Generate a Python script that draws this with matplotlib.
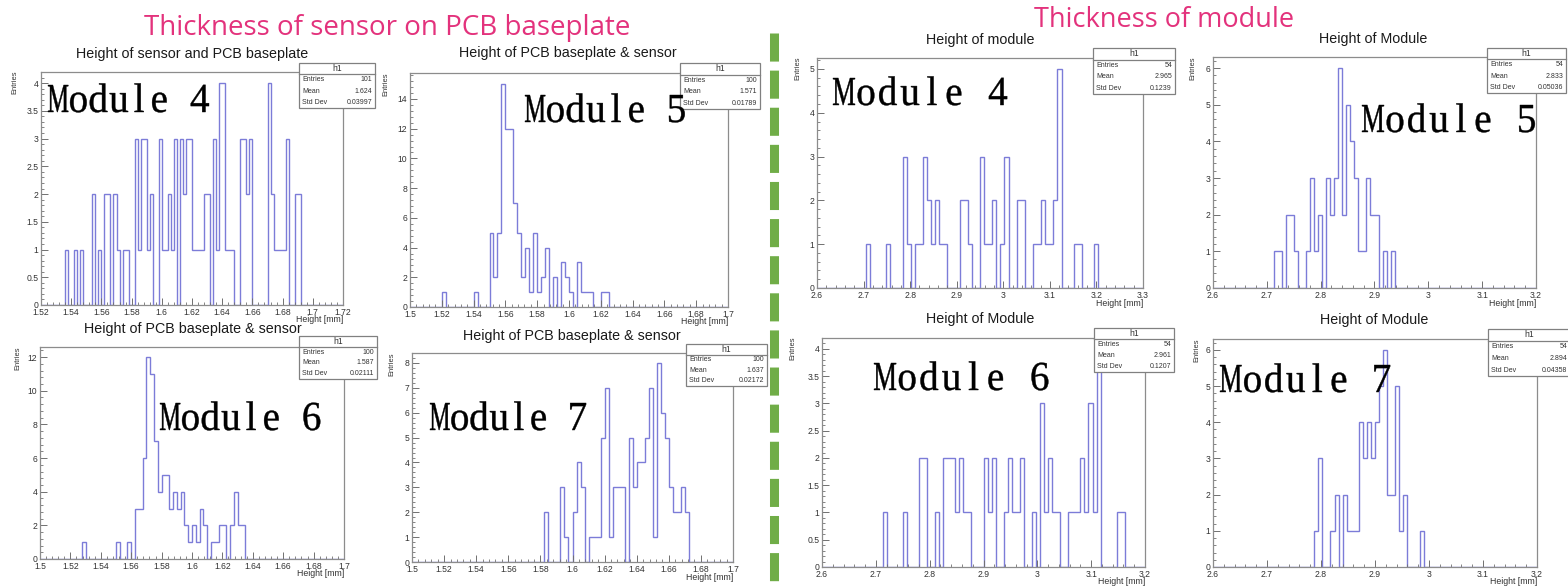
import numpy as np
import matplotlib
matplotlib.use("Agg")
import matplotlib.pyplot as plt
from matplotlib.patches import Rectangle, PathPatch
from matplotlib.lines import Line2D
from matplotlib.textpath import TextPath
from matplotlib.font_manager import FontProperties
from matplotlib.transforms import Affine2D
from matplotlib.ticker import MultipleLocator, FuncFormatter

W, H = 1568, 587

# ---- data: binning (lo, hi, nbins), first filled bin, counts from there on ----
sensor_m4_bins = (1.52, 1.72, 100)
sensor_m4_first = 8
sensor_m4_counts = [1, 0, 0, 1, 0, 1, 0, 0, 0, 2, 0, 1, 0, 2, 2, 0, 2, 1, 0, 1,
                    1, 0, 0, 3, 1, 3, 3, 1, 2, 0, 0, 3, 1, 1, 2, 1, 3, 0, 3, 2,
                    3, 3, 1, 1, 1, 1, 2, 2, 0, 3, 1, 4, 4, 1, 1, 1, 0, 0, 3, 3,
                    2, 3, 0, 0, 0, 0, 0, 4, 2, 1, 1, 1, 1, 3, 0, 0, 2, 2]
sensor_m4_stats = ("101", "1.624", "0.03997")

sensor_m5_bins = (1.5, 1.7, 80)
sensor_m5_first = 8
sensor_m5_counts = [1, 0, 0, 0, 0, 0, 0, 0, 1, 0, 0, 0, 5, 2, 5, 15, 12, 12, 7, 5,
                    2, 4, 1, 5, 1, 2, 4, 0, 2, 0, 3, 2, 1, 0, 3, 1, 1, 1, 0, 0,
                    1, 1]
sensor_m5_stats = ("100", "1.571", "0.01789")

sensor_m6_bins = (1.5, 1.7, 80)
sensor_m6_first = 11
sensor_m6_counts = [1, 0, 0, 0, 0, 0, 0, 0, 0, 1, 0, 0, 1, 0, 3, 3, 6, 12, 11, 7,
                    4, 5, 5, 3, 4, 3, 4, 2, 1, 2, 1, 3, 2, 0, 1, 1, 2, 2, 0, 2,
                    4, 2, 2]
sensor_m6_stats = ("100", "1.587", "0.02111")

sensor_m7_bins = (1.5, 1.7, 80)
sensor_m7_first = 33
sensor_m7_counts = [2, 0, 0, 0, 3, 1, 0, 2, 4, 3, 0, 1, 1, 1, 5, 7, 1, 3, 3, 3,
                    0, 5, 3, 4, 4, 5, 7, 1, 8, 6, 5, 3, 2, 2, 3, 2]
sensor_m7_stats = ("100", "1.637", "0.02172")

module_m4_bins = (2.6, 3.3, 80)
module_m4_first = 12
module_m4_counts = [1, 0, 0, 0, 0, 1, 0, 0, 0, 3, 1, 0, 1, 1, 3, 2, 1, 2, 1, 1,
                    0, 0, 0, 2, 2, 1, 0, 0, 3, 1, 1, 2, 0, 1, 3, 0, 0, 2, 2, 0,
                    0, 1, 1, 2, 1, 1, 2, 5, 0, 0, 0, 1, 1, 0, 0, 0, 1]
module_m4_stats = ("54", "2.965", "0.1239")

module_m5_bins = (2.6, 3.2, 80)
module_m5_first = 15
module_m5_counts = [1, 1, 0, 2, 2, 1, 0, 0, 1, 3, 1, 2, 0, 3, 2, 3, 6, 2, 5, 4,
                    3, 1, 1, 3, 2, 2, 0, 1, 0, 1]
module_m5_stats = ("54", "2.833", "0.05036")

module_m6_bins = (2.6, 3.2, 80)
module_m6_first = 15
module_m6_counts = [1, 0, 0, 0, 0, 1, 0, 0, 0, 2, 2, 0, 0, 1, 0, 2, 2, 2, 1, 2,
                    1, 1, 0, 0, 0, 2, 1, 2, 0, 0, 1, 2, 1, 1, 2, 0, 0, 1, 0, 3,
                    1, 2, 1, 1, 0, 0, 1, 1, 1, 2, 1, 3, 1, 4, 0, 0, 0, 0, 1, 1]
module_m6_stats = ("54", "2.961", "0.1207")

module_m7_bins = (2.6, 3.2, 80)
module_m7_first = 25
module_m7_counts = [1, 3, 0, 0, 1, 2, 0, 2, 1, 1, 1, 4, 3, 4, 3, 4, 5, 6, 2, 2,
                    5, 1, 2, 0, 0, 0, 1]
module_m7_stats = ("54", "2.894", "0.04358")

titles = ["Height of sensor and PCB baseplate", "Height of PCB baseplate & sensor",
          "Height of PCB baseplate & sensor", "Height of PCB baseplate & sensor",
          "Height of module", "Height of Module", "Height of Module", "Height of Module"]
labels = ["Module 4", "Module 5", "Module 6", "Module 7",
          "Module 4", "Module 5", "Module 6", "Module 7"]

plt.rcParams['font.family'] = ['Liberation Sans', 'DejaVu Sans']

fig = plt.figure(figsize=(W / 100, H / 100), dpi=100)
fig.patch.set_facecolor('white')

HCOL = '#7c7cd8'
FRAME = '#8c8c8c'
TXT = '#333333'
serif = FontProperties(family='Liberation Serif')


def full_counts(bins, first, counts):
    out = np.zeros(bins[2])
    out[first:first + len(counts)] = counts
    return out


def fx(x):
    return x / W


def fy(y):
    return 1 - y / H


def module_label(text, left, right, base, cap=27):
    # monospaced serif look: each glyph centred in its own cell
    pitch = (right - left) / len(text)
    ref = TextPath((0, 0), 'M', size=100, prop=serif).get_extents()
    k = cap / ref.height
    for i, ch in enumerate(text):
        if ch == ' ':
            continue
        p = TextPath((0, 0), ch, size=100, prop=serif)
        e = p.get_extents()
        sx = min(0.95, 1.0 * pitch / (e.width * k)) * k
        cx = left + pitch * (i + 0.5)
        tr = (Affine2D().scale(sx, k).translate(cx - (e.x0 + e.x1) / 2 * sx, H - base)
              + Affine2D().scale(1 / W, 1 / H) + fig.transFigure)
        fig.add_artist(PathPatch(p, transform=tr, fc='black', ec='black', lw=0.3,
                                 zorder=10))


def stats_box(x0, y0, x1, y1, vals):
    fig.add_artist(Rectangle((fx(x0), fy(y1)), fx(x1 - x0), (y1 - y0) / H,
                             transform=fig.transFigure, fc='white', ec='#808080',
                             lw=0.9, zorder=5))
    hh = (y1 - y0) * 0.25
    fig.add_artist(Line2D([fx(x0), fx(x1)], [fy(y0 + hh), fy(y0 + hh)],
                          transform=fig.transFigure, color='#808080', lw=0.9, zorder=6))
    fig.text(fx((x0 + x1) / 2), fy(y0 + hh / 2), 'h1', ha='center', va='center',
             fontsize=6.2, color=TXT, zorder=7)
    rh = (y1 - y0 - hh) / 3
    for j, (name, v) in enumerate(zip(["Entries", "Mean", "Std Dev"], vals)):
        yy = fy(y0 + hh + rh * (j + 0.5))
        fig.text(fx(x0 + 3), yy, name, ha='left', va='center', fontsize=5.0,
                 color=TXT, zorder=7)
        fig.text(fx(x1 - 3), yy, v, ha='right', va='center', fontsize=5.0,
                 color=TXT, zorder=7)


# layout per panel: frame (l, t, r, b), title centre, stats box, label box, y-title offset
panels = [
    dict(bins=sensor_m4_bins, first=sensor_m4_first, counts=sensor_m4_counts,
         stats=sensor_m4_stats, frame=(41, 72, 343, 305), title=(192, 54),
         box=(299, 63, 375, 108), lab=(48, 210, 112), yoff=26,
         xmaj=0.02, xmin=0.004, ymaj=0.5, ymin=0.1),
    dict(bins=sensor_m5_bins, first=sensor_m5_first, counts=sensor_m5_counts,
         stats=sensor_m5_stats, frame=(410, 73, 728, 307), title=(568, 53),
         box=(680, 63, 760, 109), lab=(525, 687, 122), yoff=24,
         xmaj=0.02, xmin=0.004, ymaj=2, ymin=0.4),
    dict(bins=sensor_m6_bins, first=sensor_m6_first, counts=sensor_m6_counts,
         stats=sensor_m6_stats, frame=(40, 347, 344, 559), title=(193, 329),
         box=(299, 336, 377, 379), lab=(160, 322, 430), yoff=22,
         xmaj=0.02, xmin=0.004, ymaj=2, ymin=0.4),
    dict(bins=sensor_m7_bins, first=sensor_m7_first, counts=sensor_m7_counts,
         stats=sensor_m7_stats, frame=(412, 353, 733, 562), title=(572, 336),
         box=(686, 344, 767, 386), lab=(430, 588, 430), yoff=20,
         xmaj=0.02, xmin=0.004, ymaj=1, ymin=0.2),
    dict(bins=module_m4_bins, first=module_m4_first, counts=module_m4_counts,
         stats=module_m4_stats, frame=(817, 58, 1143, 288), title=(980, 40),
         box=(1093, 48, 1175, 94), lab=(833, 1009, 105), yoff=19,
         xmaj=0.1, xmin=0.02, ymaj=1, ymin=0.2),
    dict(bins=module_m5_bins, first=module_m5_first, counts=module_m5_counts,
         stats=module_m5_stats, frame=(1213, 57, 1536, 288), title=(1373, 39),
         box=(1487, 48, 1566, 93), lab=(1362, 1538, 132), yoff=20,
         xmaj=0.1, xmin=0.02, ymaj=1, ymin=0.2),
    dict(bins=module_m6_bins, first=module_m6_first, counts=module_m6_counts,
         stats=module_m6_stats, frame=(822, 338, 1145, 567), title=(980, 319),
         box=(1094, 328, 1174, 372), lab=(874, 1051, 390), yoff=29,
         xmaj=0.1, xmin=0.02, ymaj=0.5, ymin=0.1),
    dict(bins=module_m7_bins, first=module_m7_first, counts=module_m7_counts,
         stats=module_m7_stats, frame=(1213, 339, 1537, 567), title=(1374, 320),
         box=(1488, 329, 1570, 376), lab=(1220, 1393, 392), yoff=16,
         xmaj=0.1, xmin=0.02, ymaj=1, ymin=0.2),
]

fmt = FuncFormatter(lambda v, p: f'{v:g}')

for i, pn in enumerate(panels):
    l, t, r, b = pn['frame']
    ax = fig.add_axes([fx(l), fy(b), fx(r - l), (b - t) / H])
    lo, hi, nb = pn['bins']
    edges = np.linspace(lo, hi, nb + 1)
    vals = full_counts(pn['bins'], pn['first'], pn['counts'])
    ax.stairs(vals, edges, color=HCOL, lw=1.0, baseline=0)
    ax.set_xlim(lo, hi)
    ax.set_ylim(0, 1.05 * vals.max())
    for s in ax.spines.values():
        s.set_color(FRAME)
        s.set_linewidth(0.9)
    ax.xaxis.set_major_locator(MultipleLocator(pn['xmaj']))
    ax.xaxis.set_minor_locator(MultipleLocator(pn['xmin']))
    ax.yaxis.set_major_locator(MultipleLocator(pn['ymaj']))
    ax.yaxis.set_minor_locator(MultipleLocator(pn['ymin']))
    ax.xaxis.set_major_formatter(fmt)
    ax.yaxis.set_major_formatter(fmt)
    ax.tick_params(which='both', direction='in', top=False, right=False,
                   color='#707070', labelsize=6.2, labelcolor=TXT, pad=2)
    ax.tick_params(which='major', length=5, width=0.7)
    ax.tick_params(which='minor', length=2.5, width=0.6)

    fig.text(fx(pn['title'][0]), fy(pn['title'][1]), titles[i], ha='center',
             va='center', fontsize=10.3, color='#1a1a1a')
    fig.text(fx(l - pn['yoff']), fy(t - 1), 'Entries', rotation=90, ha='center',
             va='top', fontsize=5.4, color=TXT)
    fig.text(fx(r), fy(b + 15), 'Height [mm]', ha='right', va='center',
             fontsize=6.3, color=TXT)
    stats_box(*pn['box'], pn['stats'])
    module_label(labels[i], *pn['lab'])

# headings
fig.text(fx(387), fy(35), 'Thickness of sensor on PCB baseplate', ha='center',
         va='baseline', fontsize=20, color='#e3327c', family='Open Sans')
fig.text(fx(1164), fy(27), 'Thickness of module', ha='center', va='baseline',
         fontsize=19.5, color='#e3327c', family='Open Sans')

# green dashed divider
fig.add_artist(Line2D([fx(773.5), fx(773.5)], [fy(33), fy(600)],
                      transform=fig.transFigure, color='#70ad47', lw=6.5,
                      dashes=(28 / 9, 9 / 9), solid_capstyle='butt', zorder=8))

fig.savefig('out.png', dpi=100, facecolor='white')
